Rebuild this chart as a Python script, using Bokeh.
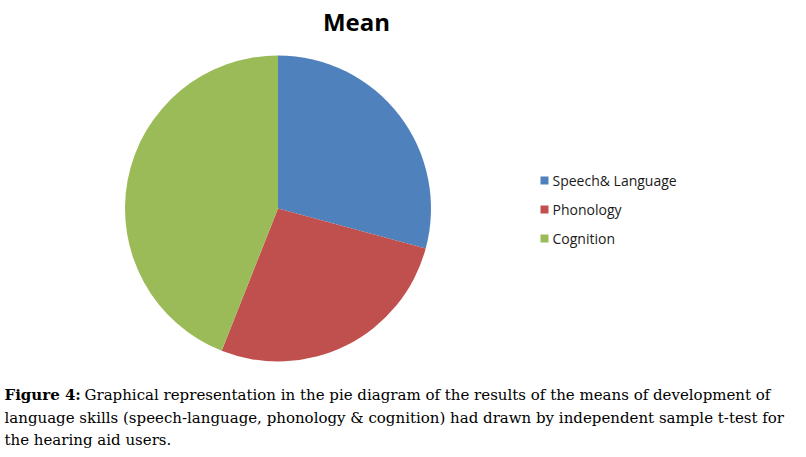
import numpy as np
from bokeh.plotting import figure
from bokeh.models import Range1d, ColumnDataSource
from bokeh.core.properties import value
from bokeh.embed import file_html
from bokeh.resources import INLINE

# ---- data ----
categories = ["Speech& Language", "Phonology", "Cognition"]
means = [29.2, 26.8, 44.0]
colors = ["#4F81BD", "#C0504D", "#9BBB59"]
title_text = "Mean"
caption_bold = "Figure 4:"
caption_lines = [
    "Graphical representation in the pie diagram of the results of the means of development of",
    "language skills (speech-language, phonology & cognition) had drawn by independent sample t-test for",
    "the hearing aid users.",
]

W, H = 800, 450
p = figure(width=W, height=H, x_range=Range1d(0, W), y_range=Range1d(0, H),
           output_backend="svg", toolbar_location=None, min_border=0)
p.axis.visible = False
p.grid.visible = False
p.outline_line_color = None
p.background_fill_color = "white"
p.border_fill_color = "white"

def px(x):
    return x
def py(y):
    return H - y

# pie
vals = np.array(means, dtype=float)
frac = vals / vals.sum()
cum = np.concatenate([[0], np.cumsum(frac)])
start = np.pi / 2 - 2 * np.pi * cum[:-1]
end = np.pi / 2 - 2 * np.pi * cum[1:]
src = ColumnDataSource(dict(cat=categories, start=start, end=end, color=colors))
p.wedge(x=px(277.5), y=py(208), radius=153, start_angle="start", end_angle="end",
        direction="clock", fill_color="color", line_color=None, source=src)

# legend (manual)
ly = [py(180), py(209), py(238)]
p.rect(x=[px(544)] * 3, y=ly, width=8, height=8, fill_color=colors, line_color=None)
p.text(x=[px(552)] * 3, y=ly, text=categories, text_font=value("Open Sans"),
       text_font_size="14px", text_baseline="middle", text_align="left", text_color="#1a1a1a")

# title
p.text(x=[px(356)], y=[py(21)], text=[title_text], text_font=value("Open Sans"),
       text_font_size="24px", text_font_style="bold", text_align="center",
       text_baseline="middle", text_color="black")

# caption
cy = [py(394), py(417), py(439)]
p.text(x=[px(4)], y=[cy[0]], text=[caption_bold], text_font=value("DejaVu Serif"),
       text_font_size="15px", text_font_style="bold", text_baseline="middle", text_color="black")
p.text(x=[px(84), px(4), px(4)], y=cy, text=caption_lines, text_font=value("DejaVu Serif"),
       text_font_size="15px", text_baseline="middle", text_color="black")

open("out.html", "w").write(file_html(p, INLINE))
